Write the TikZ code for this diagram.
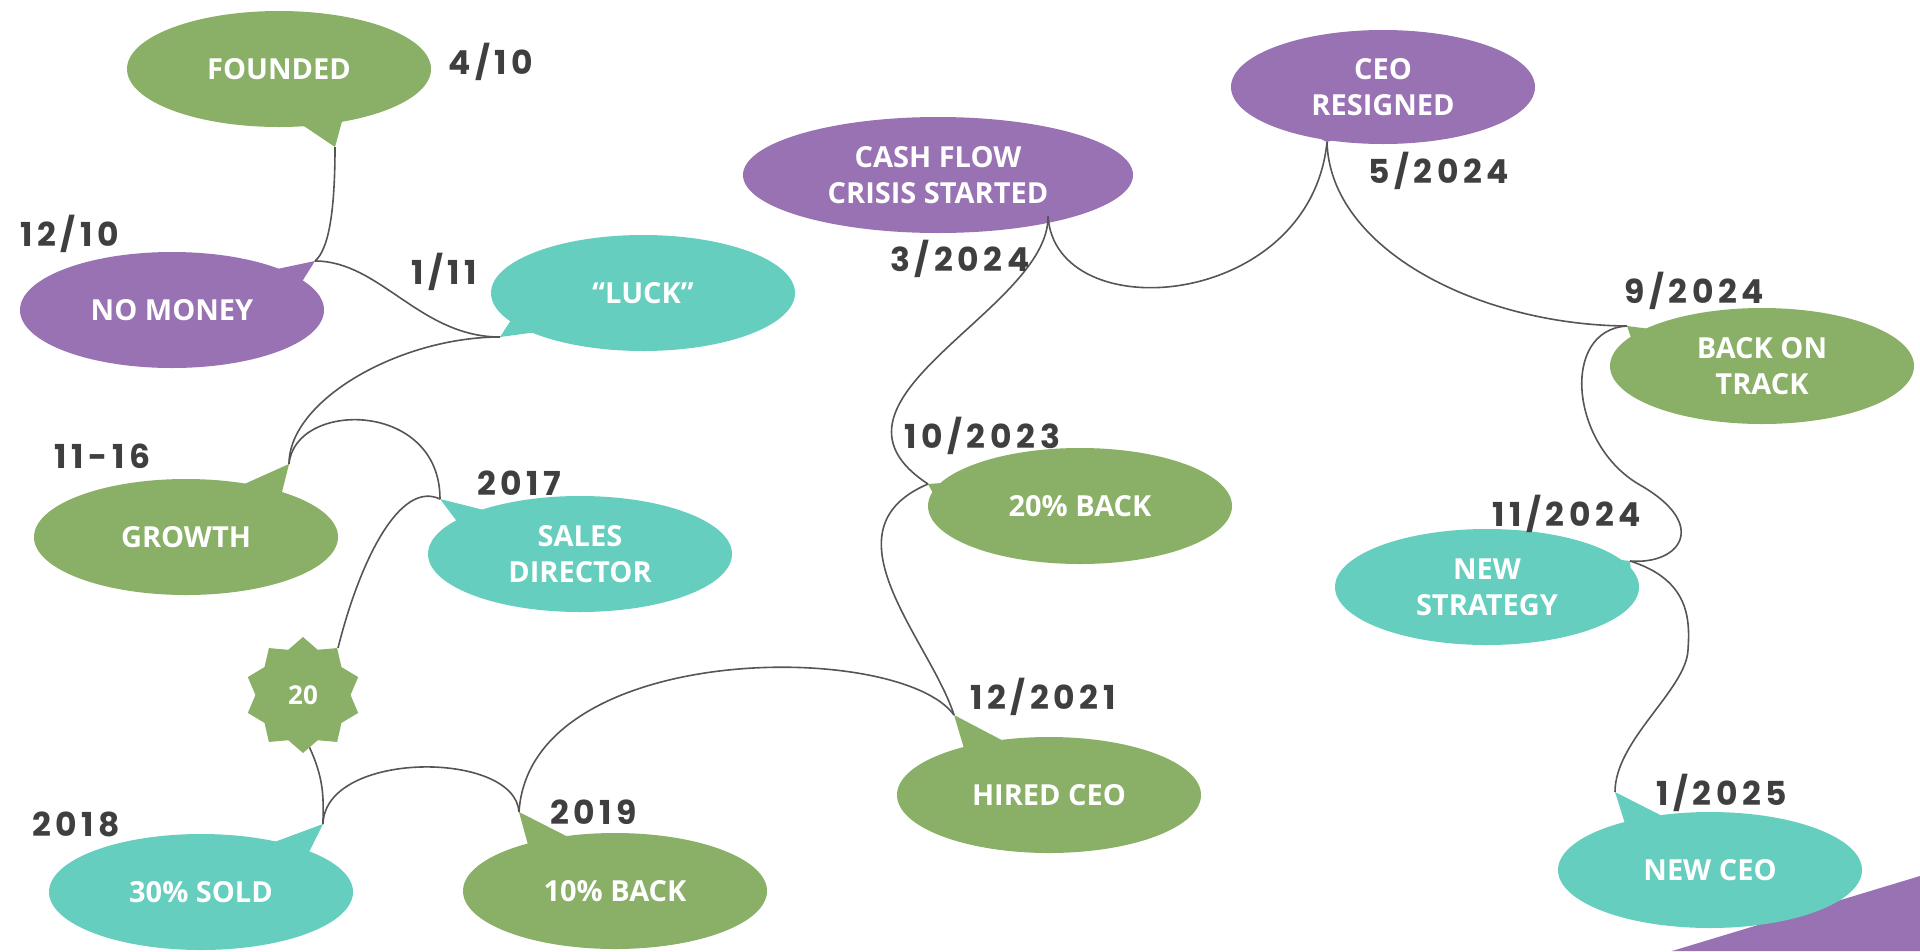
\documentclass[tikz,border=0pt]{standalone}
\usepackage{fontspec}
\setmainfont{Open Sans}
\newfontfamily\bubfont{Open Sans}
\newfontfamily\datefont[LetterSpace=14]{Poppins}
\usetikzlibrary{shapes.geometric}
\definecolor{cgreen}{HTML}{8AAF66}
\definecolor{cpurple}{HTML}{9872B2}
\definecolor{cteal}{HTML}{66CEBE}
\definecolor{cline}{HTML}{555555}
\definecolor{cdate}{HTML}{3F3F3F}
\tikzset{
  bubble/.style={ellipse, minimum width=304pt, minimum height=116pt, inner sep=0pt,
    text=white, font=\bubfont\fontsize{29}{36}\selectfont\bfseries, align=center},
  widebubble/.style={bubble, minimum width=390pt},
  conn/.style={draw=cline, line width=1.6pt},
  datelbl/.style={anchor=base west, text=cdate, inner sep=0pt,
    font=\datefont\fontsize{33}{36}\selectfont\bfseries},
}
\begin{document}
\begin{tikzpicture}[x=1pt,y=-1pt]
\path[use as bounding box] (0,0) rectangle (1920,951);
% background triangle
\fill[cpurple] (1672,951) -- (1920,876) -- (1920,951) -- cycle;

% tail tips
\coordinate (tF) at (335,147);
\coordinate (tN) at (315,261);
\coordinate (tL) at (500,337);
\coordinate (tG) at (289,464);
\coordinate (tS) at (440,499);
\coordinate (tD) at (323,824);
\coordinate (tB) at (519,812);
\coordinate (tH) at (954,715);
\coordinate (tT) at (928,484);
\coordinate (tC) at (1048,216);
\coordinate (tR) at (1327,142);
\coordinate (tK) at (1627,326);
\coordinate (tS2) at (1630,561);
\coordinate (tE) at (1615,792);

% bubbles
\node[bubble, fill=cgreen] (founded) at (279,69) {FOUNDED};
\fill[cgreen] (292,118) -- (tF) -- (344,114) -- cycle;

\node[bubble, fill=cpurple] (nomoney) at (172,310) {NO MONEY};
\fill[cpurple] (263,272) -- (tN) -- (298,288) -- cycle;

\node[bubble, fill=cteal] (luck) at (643,293) {“LUCK”};
\fill[cteal] (515,314) -- (tL) -- (552,330) -- cycle;

\node[bubble, fill=cgreen] (growth) at (186,537) {GROWTH};
\fill[cgreen] (231,490) -- (tG) -- (280,500) -- cycle;

\node[bubble, fill=cteal] (sales) at (580,554) {SALES\\DIRECTOR};
\fill[cteal] (500,514) -- (tS) -- (462,528) -- cycle;

\node[bubble, fill=cteal] (sold) at (201,892) {30\% SOLD};
\fill[cteal] (261,847) -- (tD) -- (306,858) -- cycle;

\node[bubble, fill=cgreen] (back10) at (615,891) {10\% BACK};
\fill[cgreen] (580,843) -- (tB) -- (530,852) -- cycle;

\node[bubble, fill=cgreen] (hired) at (1049,795) {HIRED CEO};
\fill[cgreen] (1013,746) -- (tH) -- (966,755) -- cycle;

\node[bubble, fill=cgreen] (back20) at (1080,506) {20\% BACK};
\fill[cgreen] (955,482) -- (tT) -- (940,506) -- cycle;

\node[widebubble, fill=cpurple] (cash) at (938,175) {CASH FLOW\\CRISIS STARTED};
\fill[cpurple] (1031,218) -- (tC) -- (1085,205) -- cycle;

\node[bubble, fill=cpurple, minimum height=114pt] (resigned) at (1383,87) {CEO\\RESIGNED};
\fill[cpurple] (1282,120) -- (tR) -- (1350,135) -- cycle;

\node[bubble, fill=cgreen] (track) at (1762,366) {BACK ON\\TRACK};
\fill[cgreen] (1666,331) -- (tK) -- (1634,346) -- cycle;

\node[bubble, fill=cteal] (strategy) at (1487,587) {NEW\\STRATEGY};
\fill[cteal] (1604,558) -- (tS2) -- (1632,582) -- cycle;

\node[bubble, fill=cteal] (newceo) at (1710,870) {NEW CEO};
\fill[cteal] (1674,822) -- (tE) -- (1627,830) -- cycle;

% connectors
\draw[conn] (tF) .. controls (335,215) and (328,250) .. (tN);
\draw[conn] (tN) .. controls (380,261) and (420,337) .. (tL);
\draw[conn] (tL) .. controls (400,337) and (289,400) .. (tG);
\draw[conn] (tG) .. controls (295,400) and (440,400) .. (tS);
\draw[conn] (tS) .. controls (400,480) and (360,560) .. (338,648);
\draw[conn] (306,740) .. controls (326,780) and (323,800) .. (tD);
\draw[conn] (tD) .. controls (325,750) and (515,750) .. (tB);
\draw[conn] (tB) .. controls (530,640) and (900,640) .. (tH);
\draw[conn] (tH) .. controls (930,640) and (820,530) .. (tT);
\draw[conn] (tT) .. controls (800,400) and (1050,310) .. (tC);
\draw[conn] (tC) .. controls (1055,330) and (1310,310) .. (tR);
\draw[conn] (tR) .. controls (1330,250) and (1480,325) .. (tK);
\draw[conn] (tK) .. controls (1560,330) and (1570,445) .. (1640,485)
                 .. controls (1710,525) and (1680,565) .. (tS2);
\draw[conn] (tS2) .. controls (1690,580) and (1690,620) .. (1688,650)
                  .. controls (1686,690) and (1615,740) .. (tE);

% star
\node[star, star points=10, star point ratio=1.22, minimum size=116pt, inner sep=0pt,
      fill=cgreen, text=white, font=\bubfont\fontsize{26}{30}\selectfont\bfseries] (s20) at (303,695) {20};

% dates
\node[datelbl] (d1) at (448,74) {4/10};
\node[datelbl] (d2) at (20,246) {12/10};
\node[datelbl] (d3) at (411,284) {1/11};
\node[datelbl] (d4) at (54,468) {11-16};
\node[datelbl] (d5) at (477,495) {2017};
\node[datelbl] (d6) at (32,836) {2018};
\node[datelbl] (d7) at (550,824) {2019};
\node[datelbl] (d8) at (970,709) {12/2021};
\node[datelbl] (d9) at (904,448) {10/2023};
\node[datelbl] (d10) at (890,271) {3/2024};
\node[datelbl] (d11) at (1368,183) {5/2024};
\node[datelbl] (d12) at (1624,303) {9/2024};
\node[datelbl] (d13) at (1492,526) {11/2024};
\node[datelbl] (d14) at (1656,805) {1/2025};
\end{tikzpicture}
\end{document}
